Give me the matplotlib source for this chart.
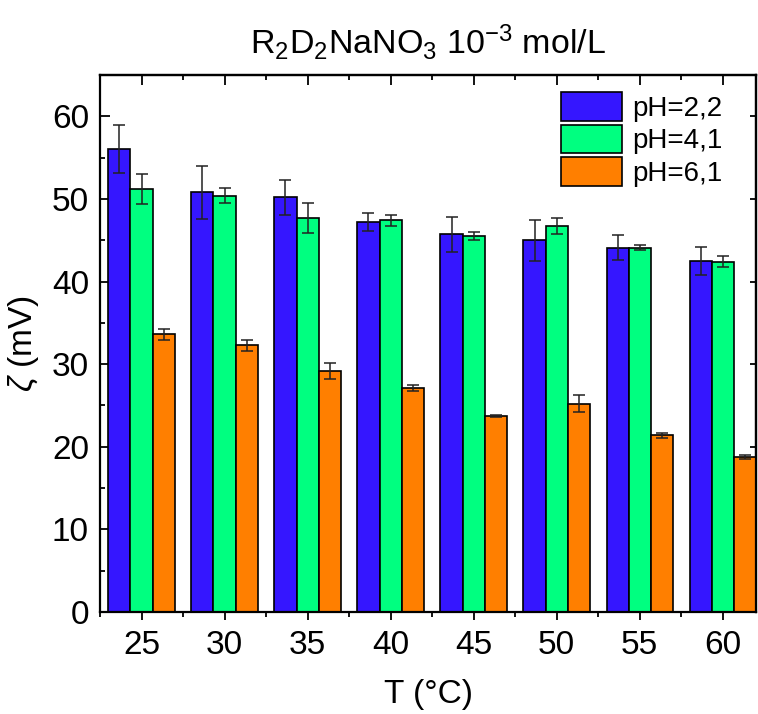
import matplotlib
matplotlib.use("Agg")
import matplotlib.pyplot as plt
import numpy as np
from matplotlib.ticker import MultipleLocator

plt.rcParams['font.family'] = ['Liberation Sans', 'DejaVu Sans']
plt.rcParams['mathtext.fontset'] = 'custom'
plt.rcParams['mathtext.rm'] = 'Liberation Sans'
plt.rcParams['mathtext.it'] = 'Liberation Sans:italic'

# Temperatures (°C) and zeta potential (mV) for three pH values
temps = [25, 30, 35, 40, 45, 50, 55, 60]
labels = ["pH=2,2", "pH=4,1", "pH=6,1"]
ph22 = [56.0, 50.8, 50.2, 47.2, 45.7, 45.0, 44.1, 42.5]
ph22_err = [2.9, 3.2, 2.1, 1.05, 2.1, 2.5, 1.5, 1.7]
ph41 = [51.2, 50.4, 47.7, 47.4, 45.5, 46.7, 44.1, 42.4]
ph41_err = [1.8, 0.9, 1.8, 0.65, 0.45, 1.0, 0.3, 0.7]
ph61 = [33.6, 32.3, 29.2, 27.1, 23.7, 25.2, 21.4, 18.8]
ph61_err = [0.7, 0.65, 1.0, 0.4, 0.15, 1.05, 0.3, 0.25]

colors = ["#3516FF", "#00FF80", "#FF7F00"]
series = [ph22, ph41, ph61]
errors = [ph22_err, ph41_err, ph61_err]

fig = plt.figure(figsize=(7.58, 7.14), dpi=100)
ax = fig.add_axes([100/758, 1-612/714, 656/758, 537/714])

width = 4/3
x = np.array(temps, dtype=float)
handles = []
for i, (vals, errs, c, lab) in enumerate(zip(series, errors, colors, labels)):
    pos = x + (i - 1) * width
    b = ax.bar(pos, vals, width=width, color=c, edgecolor="black",
               linewidth=1.2, label=lab, zorder=2)
    ax.errorbar(pos, vals, yerr=errs, fmt="none", ecolor="#222222",
                elinewidth=1.1, capsize=4.5, capthick=1.1, zorder=3)
    handles.append(b)

ax.set_xlim(22.5, 62.0)
ax.set_ylim(0, 65)
ax.xaxis.set_major_locator(MultipleLocator(5))
ax.xaxis.set_minor_locator(MultipleLocator(2.5))
ax.yaxis.set_major_locator(MultipleLocator(10))
ax.yaxis.set_minor_locator(MultipleLocator(5))

for s in ax.spines.values():
    s.set_linewidth(1.6)

ax.tick_params(axis="x", which="major", direction="out", length=6, width=1.3,
               labelsize=24, pad=7, top=False)
ax.tick_params(axis="x", which="minor", direction="out", length=3.5, width=1.3,
               top=False)
ax.tick_params(axis="y", which="major", direction="in", length=7, width=1.3,
               labelsize=24, pad=8, right=False)
ax.tick_params(axis="y", which="minor", direction="in", length=3.5, width=1.3,
               right=False)

# Mirrored ticks on top and right sides
sec_x = ax.secondary_xaxis("top")
sec_x.xaxis.set_major_locator(MultipleLocator(5))
sec_x.xaxis.set_minor_locator(MultipleLocator(2.5))
sec_x.tick_params(which="major", direction="in", length=7, width=1.3, labeltop=False)
sec_x.tick_params(which="minor", direction="in", length=3.5, width=1.3)
sec_x.spines["top"].set_linewidth(1.6)
sec_y = ax.secondary_yaxis("right")
sec_y.yaxis.set_major_locator(MultipleLocator(10))
sec_y.yaxis.set_minor_locator(MultipleLocator(5))
sec_y.tick_params(which="major", direction="in", length=4, width=1.3, labelright=False)
sec_y.tick_params(which="minor", length=0)
sec_y.spines["right"].set_linewidth(1.6)

ax.set_xlabel("T (°C)", fontsize=24, labelpad=13)
ax.set_ylabel(r"$\zeta$ (mV)", fontsize=24, labelpad=8)
ax.set_title(r"R$_2$D$_2$NaNO$_3$ 10$^{-3}$ mol/L", fontsize=24.5, pad=15)

fig.legend(handles=handles, labels=labels, loc="upper left",
           bbox_to_anchor=(561/758, 1-92/714), frameon=False, fontsize=20,
           handlelength=2.2, handleheight=1.22, handletextpad=0.35,
           labelspacing=0.1, borderpad=0, borderaxespad=0)

fig.savefig("out.png", dpi=100)
